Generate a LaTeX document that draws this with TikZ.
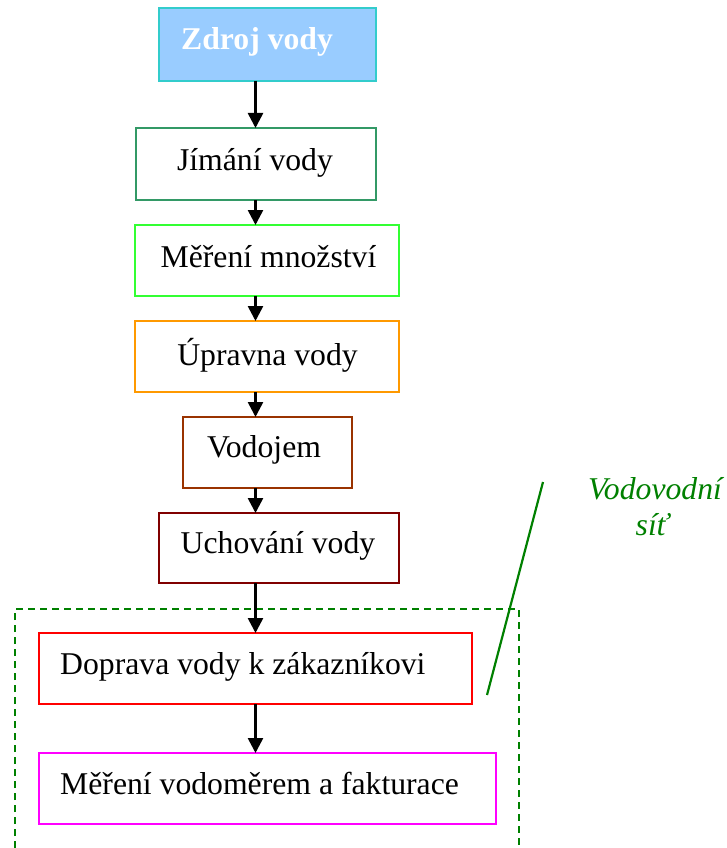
\documentclass[tikz,border=0pt]{standalone}
\usepackage{fontspec}
\setmainfont{Liberation Serif}
\usetikzlibrary{arrows.meta}
\definecolor{cBlueFill}{HTML}{99CCFF}
\definecolor{cCyan}{HTML}{33CCCC}
\definecolor{cTeal}{HTML}{339966}
\definecolor{cLime}{HTML}{33FF33}
\definecolor{cOrange}{HTML}{FF9900}
\definecolor{cBrown}{HTML}{993300}
\definecolor{cMaroon}{HTML}{800000}
\definecolor{cRed}{HTML}{FF0000}
\definecolor{cMagenta}{HTML}{FF00FF}
\definecolor{cGreen}{HTML}{008000}
\tikzset{
  boxnode/.style={draw, line width=2.2pt, inner sep=0pt, outer sep=0pt},
  txt/.style={inner sep=0pt, font=\fontsize{31.7}{38}\selectfont},
  arr/.style={line width=2.6pt, -{Triangle[width=15pt,length=15pt]}},
  netline/.style={cGreen, line width=2.2pt},
  netbox/.style={cGreen, line width=2.2pt, dash pattern=on 7pt off 5pt},
}
\begin{document}
\begin{tikzpicture}[x=1pt,y=-1pt]
\useasboundingbox (0,0) rectangle (726,848);
\clip (0,0) rectangle (726,848);

% dashed region
\draw[netbox] (15,848) -- (15,609) -- (519,609) -- (519,848);

% boxes
\node[boxnode, draw=cCyan, fill=cBlueFill, minimum width=217pt, minimum height=73pt] (zdroj) at (267.5,44.5) {};
\node[boxnode, draw=cTeal, minimum width=240pt, minimum height=72pt] (jimani) at (256,164) {};
\node[boxnode, draw=cLime, minimum width=264pt, minimum height=71pt] (mereni) at (267,260.5) {};
\node[boxnode, draw=cOrange, minimum width=264pt, minimum height=71pt] (uprava) at (267,356.5) {};
\node[boxnode, draw=cBrown, minimum width=169pt, minimum height=71pt] (vodojem) at (267.5,452.5) {};
\node[boxnode, draw=cMaroon, minimum width=240pt, minimum height=70pt] (uchovani) at (279,548) {};
\node[boxnode, draw=cRed, minimum width=433pt, minimum height=71pt] (doprava) at (255.5,668.5) {};
\node[boxnode, draw=cMagenta, minimum width=457pt, minimum height=71pt] (fakt) at (267.5,788.5) {};

% texts
\node[txt, anchor=base west, text=white, font=\fontsize{31.7}{38}\selectfont\bfseries] (tzdroj) at (181,50) {Zdroj vody};
\node[txt, anchor=base] (tjimani) at (255,170) {Jímání vody};
\node[txt, anchor=base] (tmereni) at (268.5,267) {Měření množství};
\node[txt, anchor=base] (tuprava) at (267.5,365) {Úpravna vody};
\node[txt, anchor=base] (tvodojem) at (264,457) {Vodojem};
\node[txt, anchor=base] (tuchovani) at (278,553) {Uchování vody};
\node[txt, anchor=base west] (tdoprava) at (60,674) {Doprava vody k zákazníkovi};
\node[txt, anchor=base west] (tfakt) at (60,794) {Měření vodoměrem a fakturace};

% network label
\node[txt, anchor=base, text=cGreen, font=\fontsize{31.7}{38}\selectfont\itshape] (lab1) at (655,499) {Vodovodní};
\node[txt, anchor=base, text=cGreen, font=\fontsize{31.7}{38}\selectfont\itshape] (lab2) at (652,535) {síť};
\coordinate (ltop) at (543,482);
\coordinate (lbot) at (487,695);
\draw[netline] (ltop) -- (lbot);

% arrows
\coordinate (ax) at (255.5,0);
\draw[arr] (ax |- zdroj.south) -- (ax |- jimani.north);
\draw[arr] (ax |- jimani.south) -- (ax |- mereni.north);
\draw[arr] (ax |- mereni.south) -- (ax |- uprava.north);
\draw[arr] (ax |- uprava.south) -- (ax |- vodojem.north);
\draw[arr] (ax |- vodojem.south) -- (ax |- uchovani.north);
\draw[arr] (ax |- uchovani.south) -- (ax |- doprava.north);
\draw[arr] (ax |- doprava.south) -- (ax |- fakt.north);
\end{tikzpicture}
\end{document}
